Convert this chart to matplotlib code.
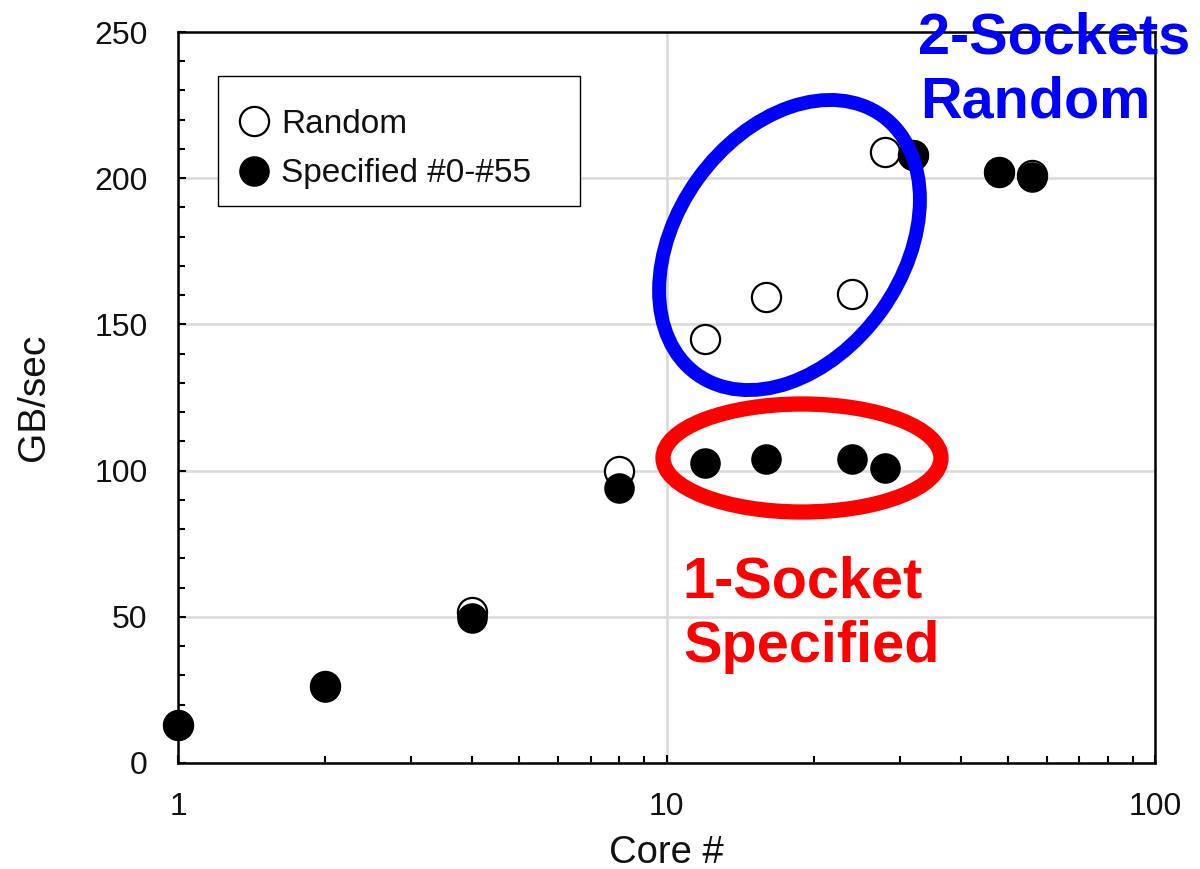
import matplotlib
matplotlib.use("Agg")
import matplotlib.pyplot as plt
from matplotlib.patches import Ellipse, Rectangle
from matplotlib.ticker import LogLocator, MultipleLocator, FixedLocator, FixedFormatter, NullFormatter

plt.rcParams['font.family'] = ['Liberation Sans', 'DejaVu Sans']

# ---- data ----
cores = [1, 2, 4, 8, 12, 16, 24, 28, 32, 48, 56]
random_bw = [13, 26.5, 51.5, 100, 145, 159.5, 160.5, 209, 208, 202, 201]
specified_bw = [13, 26, 49.5, 94, 102.5, 104, 104, 101, 208, 202, 200.5]
xticks = [1, 10, 100]
xticklabels = ["1", "10", "100"]
yticks = [0, 50, 100, 150, 200, 250]
series_labels = ["Random", "Specified #0-#55"]

W, H = 1200, 869
fig = plt.figure(figsize=(W / 100, H / 100), dpi=100)
ax = fig.add_axes([178 / W, 1 - 763 / H, (1155 - 178) / W, (763 - 32) / H])

ax.set_xscale('log')
ax.set_xlim(1, 100)
ax.set_ylim(0, 250)

ax.plot(cores, random_bw, linestyle='none', marker='o', markersize=21,
        markerfacecolor='white', markeredgecolor='black', markeredgewidth=1.6,
        label=series_labels[0], zorder=3, clip_on=False)
ax.plot(cores, specified_bw, linestyle='none', marker='o', markersize=21,
        markerfacecolor='black', markeredgecolor='black', markeredgewidth=1.0,
        label=series_labels[1], zorder=4, clip_on=False)

# ticks
ax.xaxis.set_major_locator(FixedLocator(xticks))
ax.xaxis.set_major_formatter(FixedFormatter(xticklabels))
ax.xaxis.set_minor_locator(LogLocator(base=10, subs=range(2, 10)))
ax.xaxis.set_minor_formatter(NullFormatter())
ax.yaxis.set_major_locator(FixedLocator(yticks))
ax.yaxis.set_minor_locator(MultipleLocator(10))
ax.tick_params(axis='both', which='both', direction='in', width=1.5,
               labelsize=23, colors='black')
ax.tick_params(axis='both', which='major', length=6)
ax.tick_params(axis='both', which='minor', length=5)
ax.tick_params(axis='y', which='major', pad=22)
ax.tick_params(axis='x', which='major', pad=21)
for lab in ax.get_xticklabels() + ax.get_yticklabels():
    lab.set_color('#111111')

for s in ax.spines.values():
    s.set_linewidth(1.8)
    s.set_color('black')

ax.grid(True, which='major', axis='both', color='#d9d9d9', linewidth=1.8, zorder=0)
ax.set_axisbelow(True)

ax.set_xlabel("Core #", fontsize=27.5, color='#111111', labelpad=9)
ax.set_ylabel("GB/sec", fontsize=28, color='#111111', labelpad=30)

# annotation ellipses (in inches from figure origin)
blue = Ellipse((7.895, 6.24), 3.18, 2.26, angle=54.4, fill=False,
               edgecolor='#0000ff', linewidth=10, transform=fig.dpi_scale_trans,
               zorder=6)
red = Ellipse((8.02, 4.11), 2.78, 1.08, angle=0, fill=False,
              edgecolor='#ff0000', linewidth=11, transform=fig.dpi_scale_trans,
              zorder=6)
fig.add_artist(blue)
fig.add_artist(red)

# annotation texts
fig.text(918 / W, 1 - 53 / H, "2-Sockets", color='#0000ff', fontsize=41.5,
         fontweight='bold', ha='left', va='baseline', zorder=7)
fig.text(920 / W, 1 - 118 / H, "Random", color='#0000ff', fontsize=41.5,
         fontweight='bold', ha='left', va='baseline', zorder=7)
fig.text(682 / W, 1 - 598 / H, "1-Socket", color='#ff0000', fontsize=41.5,
         fontweight='bold', ha='left', va='baseline', zorder=7)
fig.text(683 / W, 1 - 662 / H, "Specified", color='#ff0000', fontsize=41.5,
         fontweight='bold', ha='left', va='baseline', zorder=7)

# legend box
rect = Rectangle((218 / W, 1 - 206 / H), 362 / W, 130 / H, transform=fig.transFigure,
                 facecolor='white', edgecolor='black', linewidth=1.0, zorder=8)
fig.add_artist(rect)
leg = fig.legend(loc='upper left', bbox_to_anchor=(237 / W, 1 - 109 / H),
                 frameon=False, fontsize=24, handlelength=1.0, handletextpad=0.33,
                 borderpad=0, borderaxespad=0, labelspacing=0.55, numpoints=1)
leg.set_zorder(9)
for t in leg.get_texts():
    t.set_color('#111111')

fig.savefig("out.png", dpi=100)
